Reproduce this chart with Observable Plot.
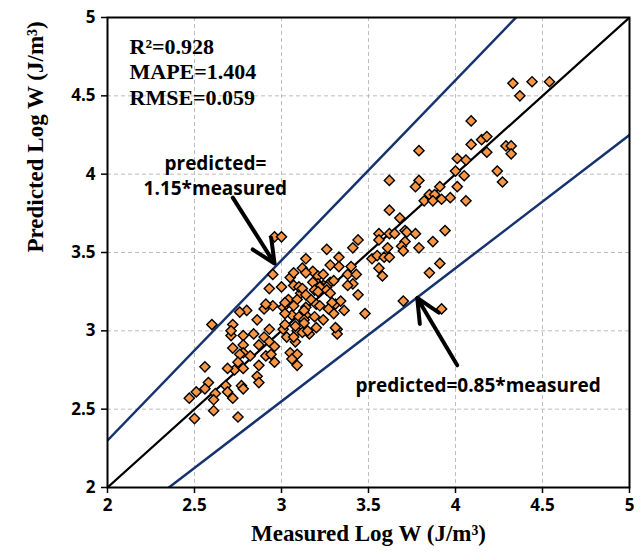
<!DOCTYPE html>
<html><head><meta charset="utf-8">
<script src="https://cdn.jsdelivr.net/npm/d3@7"></script>
<script src="https://cdn.jsdelivr.net/npm/@observablehq/plot@0.6"></script>
<style>body{margin:0;background:#fff}</style>
</head><body><div id="chart"></div>
<script>
const measured = [4.33,4.44,4.54,4.37,4.09,3.79,4.09,4.15,4.18,4.18,4.29,4.32,4.32,4.01,4.06,4.00,4.05,4.24,4.27,3.62,
3.79,3.77,3.91,4.01,3.85,3.88,3.82,3.87,3.92,3.97,4.06,3.62,3.68,3.56,3.62,3.65,3.71,3.72,3.77,3.94,
3.56,3.71,3.69,3.70,3.79,3.87,3.61,3.52,3.55,3.59,3.62,3.56,3.58,3.91,3.85,3.70,3.92,3.48,3.44,2.96,
3.00,2.95,2.93,3.00,3.04,3.05,3.07,3.12,3.14,3.18,3.21,3.26,3.33,3.28,3.33,3.41,3.44,3.40,3.38,3.43,
3.36,3.31,3.30,3.32,3.32,3.17,3.11,3.14,3.19,3.20,3.16,3.09,3.06,3.01,3.02,2.95,2.90,2.91,2.80,2.76,
2.86,2.60,2.72,2.71,2.78,2.84,2.90,2.93,2.93,3.01,3.03,3.12,2.78,2.87,2.96,2.72,
3.07,3.14,3.24,3.41,3.38,3.28,3.30,3.24,3.26,3.21,3.22,3.18,3.10,3.12,3.19,3.21,3.26,3.28,3.14,3.09,
3.34,3.29,3.20,3.22,3.02,3.07,3.14,3.13,3.27,3.10,3.24,3.13,3.02,3.31,3.08,
2.71,2.78,2.91,2.94,2.82,2.76,2.75,2.73,2.78,2.87,2.96,2.56,2.69,2.86,2.87,2.77,2.78,2.58,2.56,2.51,
2.47,2.62,2.68,2.69,2.72,2.61,2.61,2.50,2.75,
3.05,3.09,3.06,3.09,3.08,3.15,3.07,3.13];
const predicted = [4.58,4.59,4.59,4.50,4.34,4.15,4.19,4.22,4.24,4.14,4.18,4.18,4.13,4.10,4.09,4.02,3.99,4.02,3.95,3.96,
3.96,3.92,3.92,3.92,3.87,3.87,3.83,3.83,3.84,3.85,3.83,3.77,3.72,3.62,3.62,3.62,3.64,3.63,3.62,3.64,
3.58,3.57,3.54,3.51,3.53,3.57,3.53,3.46,3.48,3.47,3.47,3.40,3.35,3.43,3.37,3.19,3.14,3.11,3.23,3.60,
3.60,3.36,3.27,3.28,3.20,3.34,3.29,3.40,3.46,3.38,3.35,3.52,3.47,3.42,3.41,3.53,3.58,3.41,3.36,3.36,
3.13,3.17,3.11,3.01,2.98,3.20,3.24,3.10,3.09,3.02,2.98,3.00,3.10,3.15,3.11,3.16,3.14,3.17,3.13,3.12,
3.07,3.04,3.04,2.97,2.97,2.98,2.96,3.01,2.93,3.01,2.96,2.99,2.91,2.91,2.90,2.89,
3.37,3.37,3.36,3.30,3.29,3.31,3.32,3.29,3.28,3.30,3.28,3.31,3.28,3.27,3.26,3.25,3.26,3.24,3.23,3.20,
3.19,3.18,3.17,3.16,3.18,3.16,3.15,3.13,3.14,3.09,3.07,3.07,3.04,3.02,3.03,
3.00,2.86,2.84,2.85,2.84,2.85,2.80,2.75,2.76,2.78,2.80,2.77,2.76,2.71,2.67,2.65,2.63,2.67,2.63,2.61,
2.57,2.60,2.65,2.61,2.57,2.56,2.49,2.44,2.45,
2.86,2.85,2.82,2.78,2.93,3.00,2.96,3.05];

const xTicks = [2, 2.5, 3, 3.5, 4, 4.5, 5];
const yTicks = [2, 2.5, 3, 3.5, 4, 4.5, 5];
const refSlopes = [1, 1.15, 0.85];
const xEnds = [2, 5];
const statsLines = ["R²=0.928", "MAPE=1.404", "RMSE=0.059"];
const xTitle = "Measured Log W (J/m³)";
const yTitle = "Predicted Log W (J/m³)";
const annoText = ["predicted=\n1.15*measured", "predicted=0.85*measured"];
const annoX = [2.62, 4.13];
const annoY = [4.00, 2.66];
const arrowFromX = [2.72, 4.01];
const arrowFromY = [3.85, 2.78];
const arrowToX = [2.96, 3.78];
const arrowToY = [3.43, 3.21];

const points = measured.map((m, i) => ({m, p: predicted[i]}));
const lines = refSlopes.flatMap((s, k) => xEnds.map(x => ({x, y: s * x, k})));
const idx2 = [0, 1];
const tickFont = {fontFamily: "Open Sans", fontSize: 17, fontWeight: "bold", fill: "black"};

const chart = Plot.plot({
  width: 641, height: 556,
  marginLeft: 107, marginRight: 12, marginTop: 17, marginBottom: 69,
  x: {domain: [2, 5]},
  y: {domain: [2, 5]},
  style: {fontFamily: "Open Sans", fontSize: "16px", color: "black", background: "white"},
  marks: [
    Plot.gridX(xTicks, {stroke: "#bdbdbd", strokeOpacity: 1, strokeDasharray: "4,3"}),
    Plot.gridY(yTicks, {stroke: "#bdbdbd", strokeOpacity: 1, strokeDasharray: "4,3"}),
    Plot.line(lines.filter(d => d.k > 0), {x: "x", y: "y", z: "k", stroke: "#16336F", strokeWidth: 2.5, clip: true}),
    Plot.line(lines.filter(d => d.k === 0), {x: "x", y: "y", stroke: "black", strokeWidth: 2.2, clip: true}),
    Plot.dot(points, {x: "m", y: "p", symbol: "diamond2", r: 4.6, fill: "#F79646", stroke: "black", strokeWidth: 1.4}),
    Plot.frame({stroke: "black", strokeWidth: 2}),
    Plot.axisX({ticks: xTicks, tickSize: 6, tickFormat: () => "", label: null, stroke: "black", strokeWidth: 1.5}),
    Plot.axisY({ticks: yTicks, tickSize: 6, tickFormat: () => "", label: null, stroke: "black", strokeWidth: 1.5}),
    Plot.text(xTicks, {x: d => d, text: d => String(d), frameAnchor: "bottom", dy: 23, ...tickFont}),
    Plot.text(yTicks, {y: d => d, text: d => String(d), frameAnchor: "left", dx: -12, textAnchor: "end", ...tickFont}),
    Plot.text([statsLines.join("\n")], {frameAnchor: "top-left", dx: 22, dy: 18, lineAnchor: "top", textAnchor: "start",
      fontFamily: "Liberation Serif", fontSize: 22, fontWeight: "bold", lineHeight: 1.16}),
    Plot.text(idx2, {x: i => annoX[i], y: i => annoY[i], text: i => annoText[i], fontFamily: "Open Sans", fontSize: 19, fontWeight: "bold", lineHeight: 1.35}),
    Plot.arrow(idx2, {x1: i => arrowFromX[i], y1: i => arrowFromY[i], x2: i => arrowToX[i], y2: i => arrowToY[i],
      stroke: "black", strokeWidth: 4, headLength: 16, headAngle: 50}),
    Plot.text([xTitle], {frameAnchor: "bottom", dy: 53, fontFamily: "Liberation Serif", fontSize: 23, fontWeight: "bold"}),
    Plot.text([yTitle], {frameAnchor: "left", rotate: -90, dx: -72, fontFamily: "Liberation Serif", fontSize: 23, fontWeight: "bold"})
  ]
});
document.getElementById("chart").appendChild(chart);
</script>
</body></html>
